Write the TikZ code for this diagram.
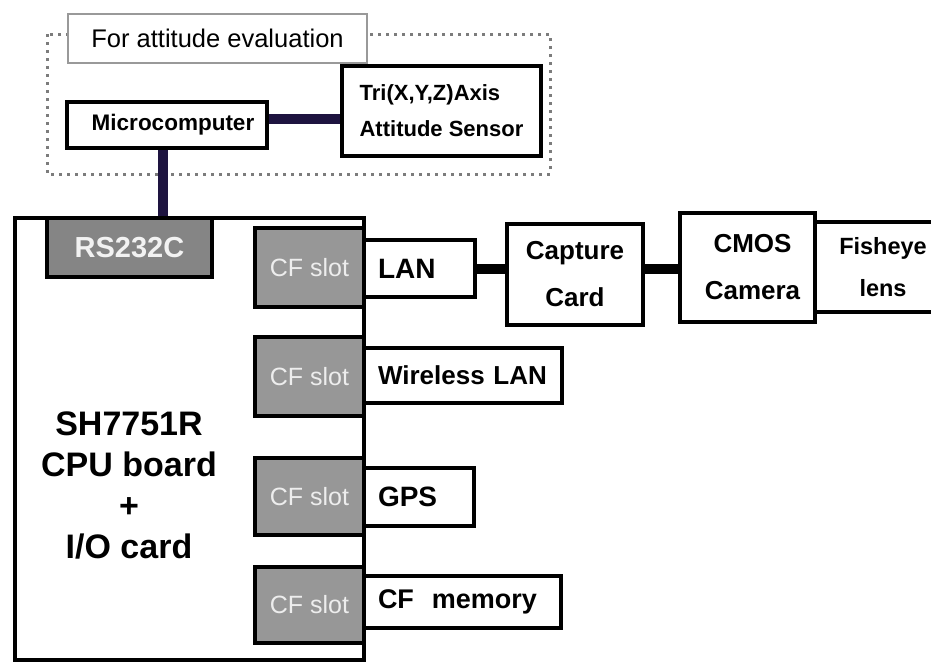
\documentclass[tikz,border=0pt]{standalone}
\usepackage{fontspec}
\setmainfont{Liberation Sans}
\definecolor{slotgray}{HTML}{979797}
\definecolor{rsgray}{HTML}{858585}
\definecolor{navyline}{HTML}{1E1440}
\definecolor{dotgray}{HTML}{7C7C7C}
\newcommand{\myfs}[2]{\fontsize{#1}{#2}\selectfont}
\begin{document}
\begin{tikzpicture}[x=1pt,y=-1pt,
  box/.style={draw=black,line width=4pt,fill=white,inner sep=0pt,font=\bfseries},
  leftbox/.style={box,inner xsep=14pt,inner ysep=0pt,align=left},
  slot/.style={draw=black,line width=4pt,fill=slotgray,text=white!93!black,inner sep=0pt,
    minimum width=109pt,font=\myfs{25}{30}},
  conn/.style={line width=10pt,navyline},
  connb/.style={line width=10pt,black},
  dotframe/.style={draw=dotgray,line width=3pt,line cap=butt,dash pattern=on 3pt off 5pt}]
\useasboundingbox (0,0) rectangle (931,664);
\fill[white] (0,0) rectangle (931,664);

% attitude evaluation group
\draw[dotframe] (47,34) rectangle (550,174);
\node[draw=gray!80,line width=1.5pt,fill=white,inner sep=0pt,minimum width=299pt,minimum height=49pt,
  font=\myfs{25.5}{30}] (att) at (217.5,38.5) {For attitude evaluation};
\node[box,minimum width=200pt,minimum height=46pt,font=\bfseries\myfs{22.5}{26}] (micro) at (167,125) {\hspace{12pt}Microcomputer};
\node[box,minimum width=199pt,minimum height=90pt,align=left,font=\bfseries\myfs{22}{36}] (sensor) at (441.5,111)
  {Tri(X,Y,Z)Axis\\Attitude Sensor};

% main board
\node[box,minimum width=349pt,minimum height=442pt] (main) at (189.5,439) {};
\node[draw=black,line width=4pt,fill=rsgray,text=white!95!black,inner sep=0pt,minimum width=165pt,minimum height=59pt,
  font=\bfseries\myfs{29}{32}] (rs) at (129.5,247.5) {RS232C};
\node[inner sep=0pt,align=center,font=\bfseries\myfs{34}{41}] (cpu) at (129,485)
  {SH7751R\\CPU board\\+\\I/O card};

% CF slots
\node[slot,minimum height=79pt] (s1) at (309.5,267.5) {CF slot};
\node[slot,minimum height=79pt] (s2) at (309.5,376.5) {CF slot};
\node[slot,minimum height=77pt] (s3) at (309.5,496.5) {CF slot};
\node[slot,minimum height=76pt] (s4) at (309.5,605) {CF slot};

% devices in slots
\node[leftbox,text width=83pt,minimum height=57pt,font=\bfseries\myfs{28}{32}] (lan) at (419.5,268.5) {LAN};
\node[leftbox,text width=170pt,minimum height=55pt,font=\bfseries\myfs{26}{30}] (wlan) at (463,375.5) {Wireless LAN};
\node[leftbox,text width=82pt,minimum height=58pt,font=\bfseries\myfs{28}{32}] (gps) at (419,497) {GPS};
\node[leftbox,text width=169pt,minimum height=52pt,font=\bfseries\myfs{27}{30}] (mem) at (462.5,602) {CF\ \ memory};

% camera chain
\node[box,minimum width=136pt,minimum height=101pt,align=center,font=\bfseries\myfs{26}{47}] (cap) at (575,274.5) {Capture\\Card};
\node[box,minimum width=135pt,minimum height=109pt,align=center,font=\bfseries\myfs{26}{47}] (cmos) at (747.5,267.5) {\hspace{10pt}CMOS\\\hspace{10pt}Camera};
\node[box,minimum width=130pt,minimum height=90pt,align=center,font=\bfseries\myfs{23.5}{42}] (fish) at (880,267) {\hspace{6pt}Fisheye\\\hspace{6pt}lens};

% connectors
\coordinate (m1) at ([yshift=6pt]micro.east);
\draw[conn] (m1) -- (m1 -| sensor.west);
\coordinate (m2) at ([xshift=-4pt]micro.south);
\draw[conn] (m2) -- (m2 |- main.north);
\draw[connb] (lan.east) -- (lan.east -| cap.west);
\coordinate (c2) at (cap.east |- lan.east);
\draw[connb] (c2) -- (c2 -| cmos.west);
\end{tikzpicture}
\end{document}
